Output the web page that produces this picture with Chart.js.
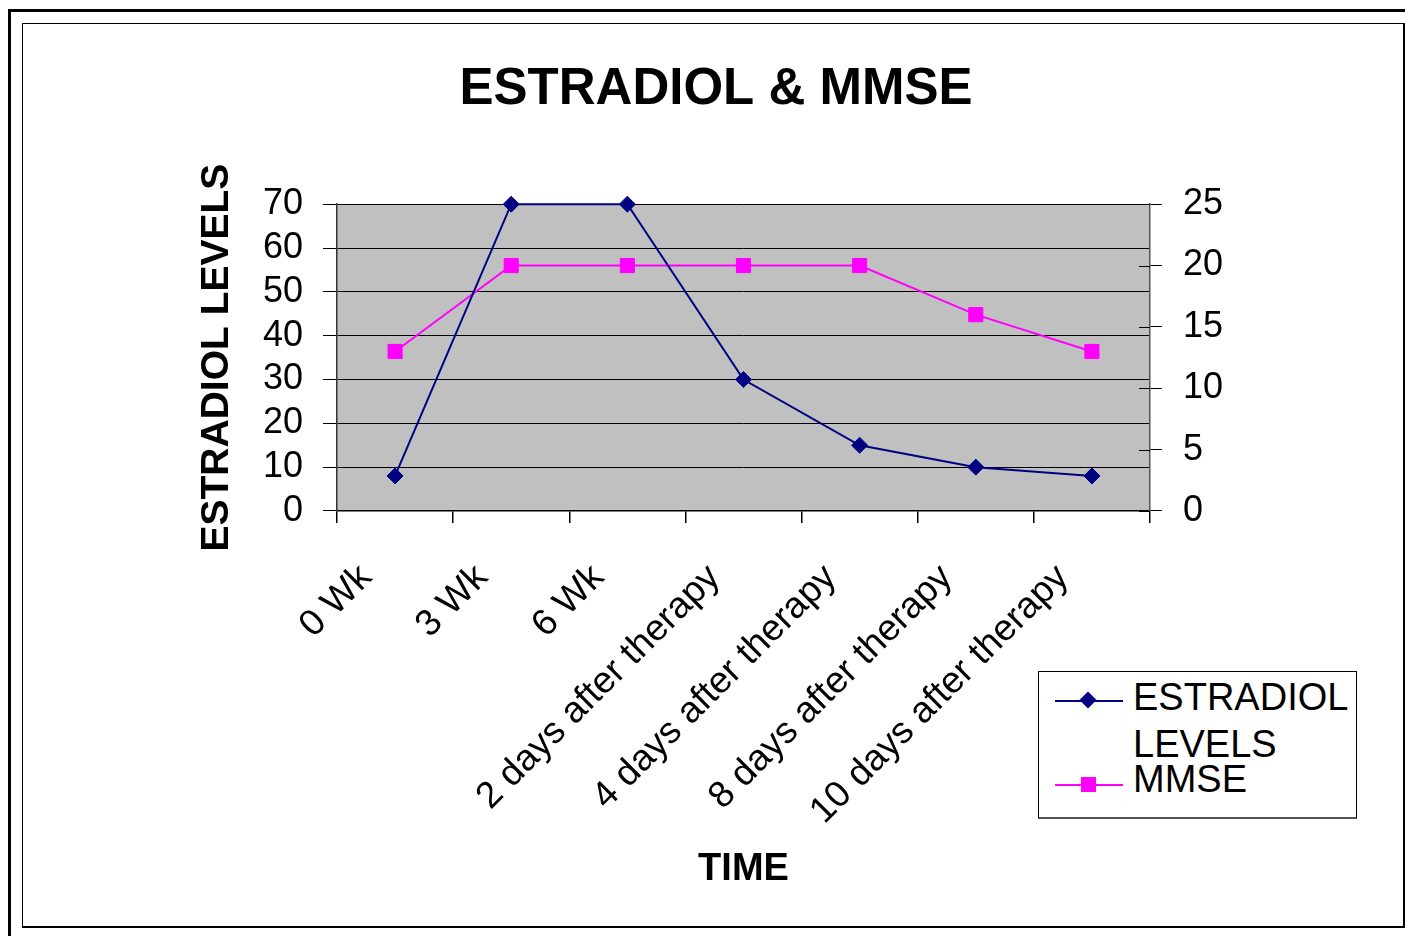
<!DOCTYPE html>
<html>
<head>
<meta charset="utf-8">
<script src="https://cdn.jsdelivr.net/npm/chart.js@4.4.1/dist/chart.umd.min.js"></script>
<style>
  html, body { margin: 0; padding: 0; background: #fff; }
  body { width: 1405px; height: 936px; position: relative; overflow: hidden; font-family: 'Liberation Sans', Arial, sans-serif; }
  #outer { position: absolute; left: 8px; top: 9px; width: 1500px; height: 1000px; border-left: 3px solid #000; border-top: 3px solid #000; }
  #inner { position: absolute; left: 22px; top: 23px; width: 1380px; height: 902px; border: 1px solid #000; border-right-width: 2px; border-bottom-width: 2px; }
  #chart { position: absolute; left: 0; top: 0; }
  #legend { position: absolute; left: 1038px; top: 671px; width: 317px; height: 145px; border: 1px solid #000; border-bottom: 2px solid #555; background: #fff; }
  .item { position: absolute; left: 0; width: 100%; }
  .item .txt { position: absolute; left: 94px; width: 222px; font-size: 38px; line-height: 47px; color: #000; }
  .item .ln { position: absolute; left: 16px; width: 68px; height: 2px; }
  .item .mk { position: absolute; }
</style>
</head>
<body>
<div id="outer"></div>
<div id="inner"></div>
<canvas id="chart" width="1405" height="936"></canvas>
<div id="legend"></div>
<script>
const timePoints = ['0 Wk', '3 Wk', '6 Wk', '2 days after therapy', '4 days after therapy', '8 days after therapy', '10 days after therapy']
const estradiolLevels = [8, 70, 70, 30, 15, 10, 8]
const mmseScores = [13, 20, 20, 20, 20, 16, 13]
const leftTicks = [0, 10, 20, 30, 40, 50, 60, 70]
const rightTicks = [0, 5, 10, 15, 20, 25]
const seriesNames = ['ESTRADIOL LEVELS', 'MMSE']

const FONT = "'Liberation Sans', Arial, sans-serif"
const NAVY = '#000080'
const MAGENTA = '#FF00FF'

// gray plot area + the little inner half of the right-axis tick marks
const plotDecor = {
  id: 'plotDecor',
  beforeDraw(chart) {
    const { ctx, chartArea: a } = chart
    ctx.save()
    ctx.fillStyle = '#C0C0C0'
    ctx.fillRect(a.left, a.top, a.right - a.left, a.bottom - a.top)
    ctx.restore()
  },
  afterDatasetsDraw(chart) {
    const { ctx } = chart
    const y1 = chart.scales.y1
    ctx.save()
    ctx.strokeStyle = '#000'
    ctx.lineWidth = 1
    y1.ticks.forEach(t => {
      const py = Math.round(y1.getPixelForValue(t.value)) + 0.5
      ctx.beginPath()
      ctx.moveTo(y1.left - 11, py)
      ctx.lineTo(y1.left, py)
      ctx.stroke()
    })
    ctx.restore()
  }
}

const ctx = document.getElementById('chart').getContext('2d')
const chart = new Chart(ctx, {
  type: 'line',
  data: {
    labels: timePoints,
    datasets: [{
      label: seriesNames[0],
      data: estradiolLevels,
      yAxisID: 'y',
      borderColor: NAVY,
      backgroundColor: NAVY,
      borderWidth: 2,
      pointStyle: 'rectRot',
      pointRadius: 8,
      pointBorderWidth: 1,
      tension: 0,
      clip: false
    }, {
      label: seriesNames[1],
      data: mmseScores,
      yAxisID: 'y1',
      borderColor: MAGENTA,
      backgroundColor: MAGENTA,
      borderWidth: 2,
      pointStyle: 'rect',
      pointRadius: 10,
      pointBorderWidth: 1,
      tension: 0,
      clip: false
    }]
  },
  options: {
    responsive: false,
    animation: false,
    devicePixelRatio: 1,
    layout: { padding: { left: 194, right: 167, top: 0, bottom: 44 } },
    plugins: {
      legend: { display: false },
      tooltip: { enabled: false },
      title: {
        display: true,
        text: 'ESTRADIOL & MMSE',
        color: '#000',
        font: { family: FONT, size: 51, weight: 'bold' },
        padding: { top: 59, bottom: 84 }
      }
    },
    scales: {
      x: {
        offset: true,
        grid: { offset: true, drawOnChartArea: false, tickLength: 12, color: '#000', lineWidth: 1.5 },
        border: { color: '#000', width: 1.5 },
        ticks: {
          autoSkip: false, maxRotation: 45, minRotation: 45,
          color: '#000', font: { family: FONT, size: 37 }, padding: 4,
          // trailing spaces pull the slanted labels down-left, like Excel places them
          callback: (v, i) => timePoints[i] + '    '
        },
        title: { display: true, text: 'TIME', color: '#000', font: { family: FONT, size: 38, weight: 'bold' }, padding: 0 },
        afterFit(scale) { scale.height = 381 }
      },
      y: {
        position: 'left',
        min: 0, max: 70,
        afterBuildTicks(scale) { scale.ticks = leftTicks.map(v => ({ value: v })) },
        grid: { color: '#000', lineWidth: 1, tickLength: 14 },
        border: { color: '#333', width: 1.5 },
        ticks: { autoSkip: false, color: '#000', font: { family: FONT, size: 36 }, padding: 20 },
        title: { display: true, text: 'ESTRADIOL LEVELS', color: '#000', font: { family: FONT, size: 39, weight: 'bold' }, padding: 0 },
        afterFit(scale) { scale.width = 143 }
      },
      y1: {
        position: 'right',
        min: 0, max: 25,
        afterBuildTicks(scale) { scale.ticks = rightTicks.map(v => ({ value: v })) },
        grid: { drawOnChartArea: false, color: '#000', lineWidth: 1, tickLength: 12 },
        border: { color: '#555', width: 1.5 },
        ticks: { autoSkip: false, color: '#000', font: { family: FONT, size: 36 }, padding: 21 },
        afterFit(scale) { scale.width = 88 }
      }
    }
  },
  plugins: [plotDecor]
})

// legend box, built from the datasets
const legend = document.getElementById('legend')
const itemTops = [2, 84]
chart.data.datasets.forEach((ds, i) => {
  const item = document.createElement('div')
  item.className = 'item'
  item.style.top = itemTops[i] + 'px'
  const lineY = i === 0 ? 26 : 28
  const mk = ds.pointStyle === 'rectRot'
    ? `<div class="mk" style="left:43px;top:${lineY - 6}px;width:12px;height:12px;background:${ds.borderColor};transform:rotate(45deg)"></div>`
    : `<div class="mk" style="left:42px;top:${lineY - 7}px;width:15px;height:15px;background:${ds.borderColor}"></div>`
  item.innerHTML = `<div class="ln" style="top:${lineY}px;background:${ds.borderColor}"></div>${mk}<div class="txt">${ds.label}</div>`
  legend.appendChild(item)
})
</script>
</body>
</html>
